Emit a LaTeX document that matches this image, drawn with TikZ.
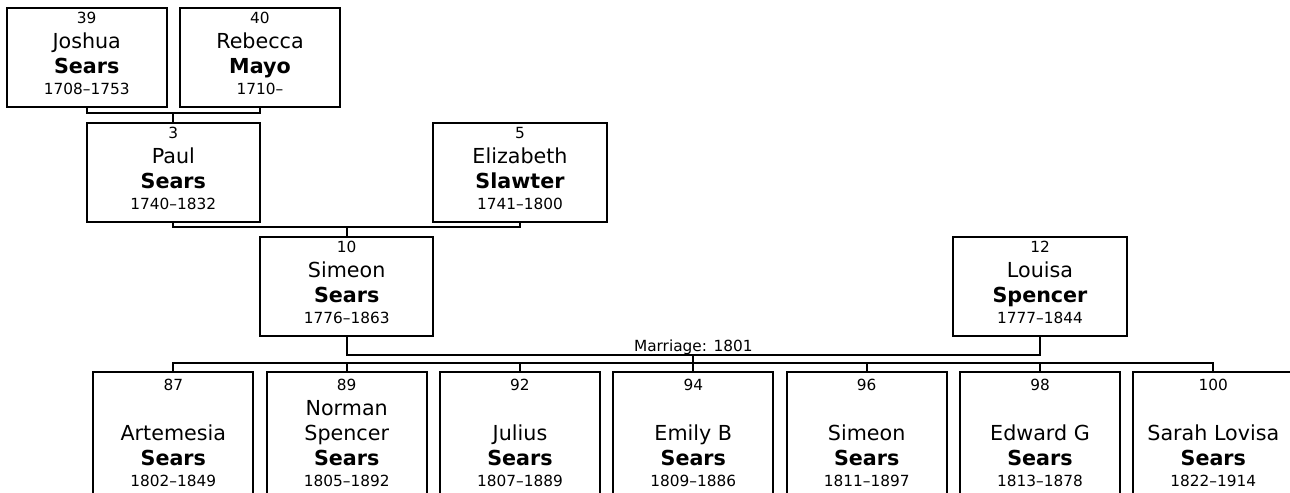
\documentclass[tikz,border=0pt]{standalone}
\usepackage{fontspec}
\setmainfont{DejaVu Sans}
\usetikzlibrary{positioning, calc}
\newcommand{\numsize}{\fontsize{11.5pt}{14pt}\selectfont}
\newcommand{\namesize}{\fontsize{15.5pt}{18.75pt}\selectfont}

\begin{document}
\begin{tikzpicture}[
        x=0.75pt, y=-0.75pt,
        person/.style={draw, line width=1.45pt, anchor=north, align=center, inner sep=0pt, font=\namesize, text height=65.25pt, text depth=9pt},
        narrow/.style={person, minimum width=120pt},
        wide/.style={person, minimum width=130pt},
        child/.style={narrow, text height=86.25pt, text depth=30pt},
        link/.style={line width=1.45pt}
    ]
        \useasboundingbox (0,0) rectangle (1290,493);
        \clip (0,0) rectangle (1290,493);

        % Grandparents of Simeon
        \node[narrow] (p39) at (86.7, 7) {{\numsize 39}\\ Joshua\\ \textbf{Sears}\\[-3pt] {\numsize 1708--1753}};
        \node[narrow] (p40) at (260, 7) {{\numsize 40}\\ Rebecca\\ \textbf{Mayo}\\[-3pt] {\numsize 1710--}};

        % Parents of Simeon
        \node[wide] (p3) at (173.3, 122) {{\numsize 3}\\ Paul\\ \textbf{Sears}\\[-3pt] {\numsize 1740--1832}};
        \node[wide] (p5) at (520, 122) {{\numsize 5}\\ Elizabeth\\ \textbf{Slawter}\\[-3pt] {\numsize 1741--1800}};

        % Couple
        \node[wide] (p10) at (346.7, 236) {{\numsize 10}\\ Simeon\\ \textbf{Sears}\\[-3pt] {\numsize 1776--1863}};
        \node[wide] (p12) at (1040, 236) {{\numsize 12}\\ Louisa\\ \textbf{Spencer}\\[-3pt] {\numsize 1777--1844}};

        % Children
        \node[child] (c87) at (173.3, 371) {{\numsize 87}\\[18.75pt] Artemesia\\ \textbf{Sears}\\[-3pt] {\numsize 1802--1849}};
        \node[child] (c89) at (346.7, 371) {{\numsize 89}\\ Norman\\ Spencer\\ \textbf{Sears}\\[-3pt] {\numsize 1805--1892}};
        \node[child] (c92) at (520, 371) {{\numsize 92}\\[18.75pt] Julius\\ \textbf{Sears}\\[-3pt] {\numsize 1807--1889}};
        \node[child] (c94) at (693.3, 371) {{\numsize 94}\\[18.75pt] Emily B\\ \textbf{Sears}\\[-3pt] {\numsize 1809--1886}};
        \node[child] (c96) at (866.7, 371) {{\numsize 96}\\[18.75pt] Simeon\\ \textbf{Sears}\\[-3pt] {\numsize 1811--1897}};
        \node[child] (c98) at (1040, 371) {{\numsize 98}\\[18.75pt] Edward G\\ \textbf{Sears}\\[-3pt] {\numsize 1813--1878}};
        \node[child] (c100) at (1213.3, 371) {{\numsize 100}\\[18.75pt] Sarah Lovisa\\ \textbf{Sears}\\[-3pt] {\numsize 1822--1914}};

        % Junctions
        \coordinate (j1) at (173.3, 113);
        \coordinate (j2) at (346.7, 227);
        \coordinate (j3) at (693.3, 355);
        \coordinate (j4) at (693.3, 363);

        % Lines
        \draw[link] (p39.south) |- (j1) -| (p40.south);
        \draw[link] (j1) -- (p3.north);
        \draw[link] (p3.south) |- (j2) -| (p5.south);
        \draw[link] (j2) -- (p10.north);
        \draw[link] (p10.south) |- (j3) -| (p12.south);
        \node[font=\numsize, anchor=base] (wed) at ([yshift=3pt]j3) {Marriage: 1801};
        \draw[link] (j3) -- (j4);
        \foreach \c in {c87, c89, c92, c94, c96, c98, c100}
            \draw[link] (j4) -| (\c.north);
    \end{tikzpicture}
\end{document}
